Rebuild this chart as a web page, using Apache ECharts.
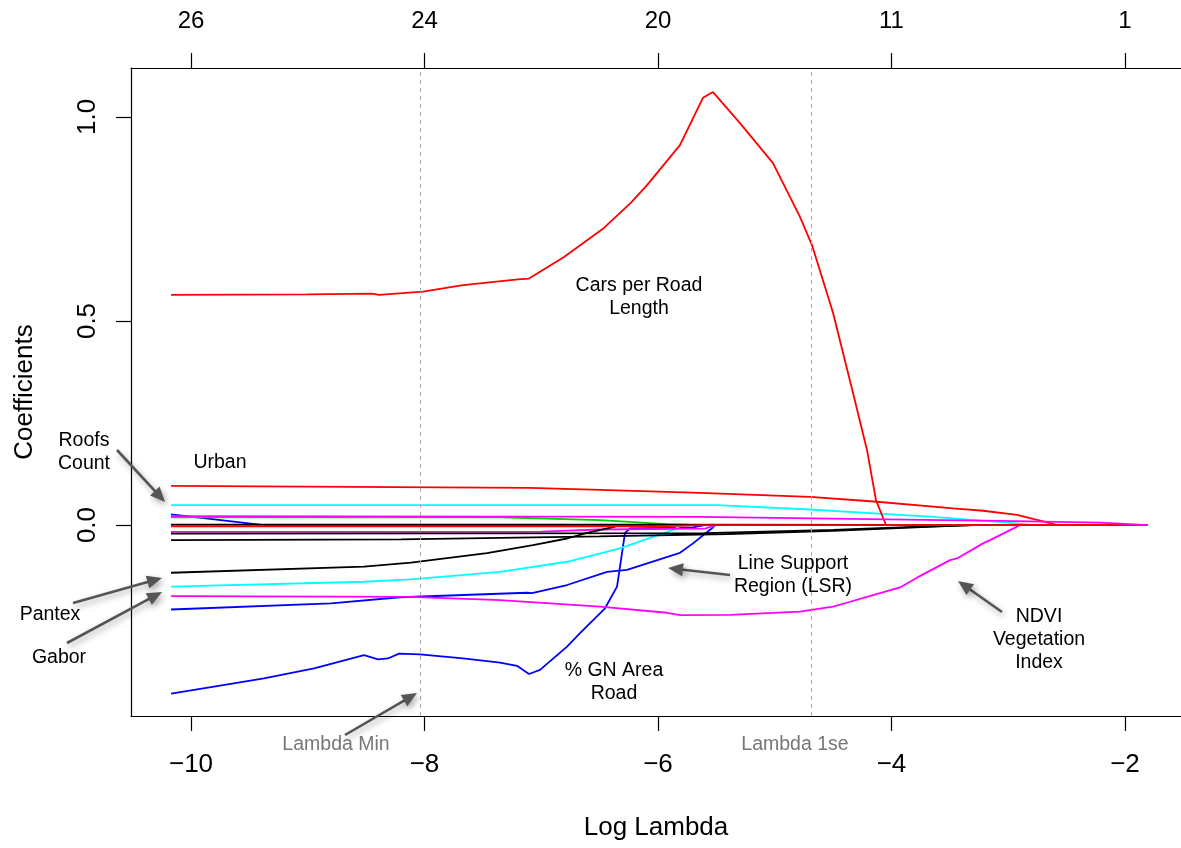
<!DOCTYPE html>
<html><head><meta charset="utf-8">
<script src="https://cdn.jsdelivr.net/npm/echarts@6/dist/echarts.min.js"></script>
<style>html,body{margin:0;padding:0;background:#fff}#c{width:1181px;height:848px}</style>
</head><body><div id="c"></div>
<script>
// ---- axes / ticks ----
const xTicks = [-10, -8, -6, -4, -2];
const topTickLabels = ['26', '24', '20', '11', '1'];
const yTicks = [0, 0.5, 1.0];
const lambdaMin = -8.036;
const lambda1se = -4.69;

// ---- coefficient paths (log lambda, coefficient) ----
const carsL = [-10.171, -9.0, -8.45, -8.39, -8.013, -7.67, -7.199, -7.105, -6.805, -6.463, -6.231, -6.094, -5.812, -5.615, -5.529, -5.298, -5.015, -4.784, -4.681, -4.501, -4.330, -4.210, -4.133, -4.047, -1.803];
const carsC = [0.564, 0.565, 0.567, 0.564, 0.572, 0.588, 0.602, 0.604, 0.657, 0.728, 0.790, 0.833, 0.931, 1.047, 1.061, 0.985, 0.887, 0.755, 0.686, 0.520, 0.324, 0.184, 0.061, 0.0, 0.0];

const urbanL = [-10.171, -7.100, -6.497, -5.640, -4.698, -4.124, -3.473, -3.216, -2.925, -2.574, -1.803];
const urbanC = [0.096, 0.091, 0.086, 0.079, 0.069, 0.057, 0.041, 0.035, 0.025, 0.0, 0.0];

const roofsL = [-10.171, -7.100, -5.495, -4.698, -3.645, -2.925, -2.788, -1.803];
const roofsC = [0.049, 0.049, 0.049, 0.038, 0.020, 0.004, 0.0, 0.0];

const magUpL = [-10.171, -5.640, -3.071, -2.214, -1.803];
const magUpC = [0.022, 0.020, 0.010, 0.006, 0.0];

const greenL = [-10.171, -7.353, -6.497, -5.923, -5.640, -1.803];
const greenC = [0.019, 0.019, 0.012, 0.002, 0.0, 0.0];

const blueSmallL = [-10.171, -9.375, -1.803];
const blueSmallC = [0.026, 0.0, 0.0];

const blackZeroL = [-10.171, -6.0, -1.803];
const blackZeroC = [0.001, 0.001, 0.0];

const redZeroL = [-10.171, -6.0, -5.6, -1.803];
const redZeroC = [-0.003, -0.003, 0.0, 0.0];

const magLowL = [-10.171, -7.0, -6.5, -5.6, -5.5, -1.803];
const magLowC = [-0.017, -0.016, -0.011, -0.009, 0.0, 0.0];

const blackAL = [-10.171, -5.6, -4.5, -3.645, -3.3, -1.803];
const blackAC = [-0.021, -0.020, -0.012, -0.003, 0.0, 0.0];

const blackBL = [-10.171, -8.2, -6.5, -5.4, -4.5, -3.645, -3.3, -1.803];
const blackBC = [-0.037, -0.035, -0.028, -0.022, -0.014, -0.004, 0.0, 0.0];

const pantexL = [-10.171, -8.518, -8.116, -7.465, -7.071, -6.779, -6.608, -6.385, -6.326, -1.803];
const pantexC = [-0.117, -0.102, -0.092, -0.069, -0.049, -0.033, -0.019, -0.005, 0.0, 0.0];

const gaborL = [-10.171, -8.518, -8.116, -7.353, -6.779, -6.326, -6.043, -5.872, -5.794, -1.803];
const gaborC = [-0.151, -0.139, -0.133, -0.115, -0.090, -0.057, -0.029, -0.012, 0.0, 0.0];

const lsrL = [-10.171, -8.801, -8.210, -7.122, -7.080, -6.779, -6.437, -6.266, -5.812, -5.700, -5.538, -5.512, -1.803];
const lsrC = [-0.207, -0.192, -0.177, -0.166, -0.167, -0.147, -0.115, -0.110, -0.068, -0.045, -0.008, 0.0, 0.0];

const ndviL = [-10.171, -8.116, -7.353, -6.497, -5.923, -5.812, -5.383, -4.784, -4.501, -4.355, -4.210, -3.927, -3.782, -3.499, -3.439, -3.216, -3.156, -2.925, -2.899, -1.803];
const ndviC = [-0.174, -0.176, -0.184, -0.200, -0.215, -0.221, -0.220, -0.212, -0.200, -0.188, -0.176, -0.153, -0.129, -0.086, -0.082, -0.045, -0.037, -0.004, 0.0, 0.0];

const gnL = [-10.171, -9.803, -9.375, -8.946, -8.518, -8.398, -8.313, -8.218, -8.039, -7.670, -7.353, -7.208, -7.105, -7.011, -6.779, -6.668, -6.454, -6.351, -6.283, -6.240, -5.700, -5.600, -1.803];
const gnC = [-0.413, -0.396, -0.376, -0.351, -0.319, -0.329, -0.327, -0.315, -0.317, -0.327, -0.337, -0.345, -0.365, -0.355, -0.298, -0.265, -0.204, -0.151, -0.020, -0.008, -0.006, 0.0, 0.0];

const paths = [
  {name: 'blueSmall', L: blueSmallL, C: blueSmallC, color: '#0000FF'},
  {name: 'GN Area Road', L: gnL, C: gnC, color: '#0000FF'},
  {name: 'LSR', L: lsrL, C: lsrC, color: '#0000FF'},
  {name: 'Gabor', L: gaborL, C: gaborC, color: '#00FFFF'},
  {name: 'Roofs Count', L: roofsL, C: roofsC, color: '#00FFFF'},
  {name: 'NDVI', L: ndviL, C: ndviC, color: '#FF00FF'},
  {name: 'magLow', L: magLowL, C: magLowC, color: '#FF00FF'},
  {name: 'green', L: greenL, C: greenC, color: '#00CD00'},
  {name: 'Pantex', L: pantexL, C: pantexC, color: '#000000'},
  {name: 'blackA', L: blackAL, C: blackAC, color: '#000000'},
  {name: 'blackB', L: blackBL, C: blackBC, color: '#000000'},
  {name: 'blackZero', L: blackZeroL, C: blackZeroC, color: '#000000'},
  {name: 'redZero', L: redZeroL, C: redZeroC, color: '#FF0000'},
  {name: 'Urban', L: urbanL, C: urbanC, color: '#FF0000'},
  {name: 'Cars per Road Length', L: carsL, C: carsC, color: '#FF0000'},
  {name: 'magUp', L: magUpL, C: magUpC, color: '#FF00FF'}
];

const FONT = "'Liberation Sans', Arial, Helvetica, sans-serif";
const minus = v => String(v).replace('-', '\u2212');

const series = paths.map((p, i) => {
  const s = {
    type: 'line', name: p.name, xAxisIndex: 0, yAxisIndex: 0,
    data: p.L.map((l, k) => [l, p.C[k]]),
    showSymbol: false, symbol: 'none', animation: false, silent: true,
    lineStyle: {color: p.color, width: 1.8}, z: 3
  };
  if (i === 0) {
    s.markLine = {
      silent: true, symbol: 'none', animation: false,
      label: {show: false},
      lineStyle: {type: [4, 4], color: '#aaaaaa', width: 1},
      data: [{xAxis: lambdaMin}, {xAxis: lambda1se}]
    };
  }
  return s;
});

// ---- annotations ----
function arrow(x1, y1, x2, y2) {
  const dx = x2 - x1, dy = y2 - y1, len = Math.hypot(dx, dy);
  const ux = dx / len, uy = dy / len, hl = 15, hw = 6.5;
  const bx = x2 - ux * hl, by = y2 - uy * hl;
  const shadow = {shadowBlur: 6, shadowColor: 'rgba(0,0,0,0.35)', shadowOffsetX: 2, shadowOffsetY: 3};
  return [
    {type: 'line', shape: {x1: x1, y1: y1, x2: bx + ux * 2, y2: by + uy * 2},
      style: Object.assign({stroke: '#555555', lineWidth: 2.6}, shadow), z: 10},
    {type: 'polygon', shape: {points: [[x2, y2], [bx - uy * hw, by + ux * hw], [bx + uy * hw, by - ux * hw]]},
      style: Object.assign({fill: '#555555'}, shadow), z: 10}
  ];
}
function label(text, x, y, color) {
  return {type: 'text', x: x, y: y, z: 11,
    style: {text: text, font: '19.5px ' + FONT, fill: color || '#000', align: 'center', verticalAlign: 'middle', lineHeight: 23}};
}
const graphics = [].concat(
  label('Cars per Road\nLength', 639, 297),
  label('Urban', 220, 463),
  label('Roofs\nCount', 84, 452),
  label('Pantex', 50, 615),
  label('Gabor', 59, 658),
  label('Line Support\nRegion (LSR)', 793, 575),
  label('NDVI\nVegetation\nIndex', 1039, 640),
  label('% GN Area\nRoad', 614, 682),
  label('Lambda Min', 336, 745, '#777777'),
  label('Lambda 1se', 795, 745, '#777777'),
  arrow(117, 450, 165, 502),
  arrow(73, 603, 162, 578),
  arrow(67, 643, 162, 592),
  arrow(730, 575, 668, 568),
  arrow(1002, 612, 958, 581),
  arrow(345, 735, 417, 693)
);

const axisLine = {show: true, onZero: false, lineStyle: {color: '#000', width: 1.2}};
const tickStyle = {color: '#000', width: 1.2};

const option = {
  backgroundColor: '#ffffff',
  animation: false,
  grid: {left: 131, right: 0, top: 68, bottom: 132, containLabel: false},
  xAxis: [
    {type: 'value', position: 'bottom', min: -10.514, max: -1.5204,
      name: 'Log Lambda', nameLocation: 'middle', nameGap: 99,
      nameTextStyle: {fontFamily: FONT, fontSize: 26, color: '#000'},
      axisLine: axisLine, splitLine: {show: false},
      axisTick: {show: true, length: 15, lineStyle: tickStyle, customValues: xTicks},
      axisLabel: {show: true, customValues: xTicks, margin: 36, fontFamily: FONT, fontSize: 26, color: '#000', formatter: v => minus(v)}},
    {type: 'value', position: 'top', min: -10.514, max: -1.5204,
      axisLine: axisLine, splitLine: {show: false},
      axisTick: {show: true, length: 15, lineStyle: tickStyle, customValues: xTicks},
      axisLabel: {show: true, customValues: xTicks, margin: 35, fontFamily: FONT, fontSize: 24, color: '#000',
        formatter: v => topTickLabels[xTicks.indexOf(Math.round(v))] || ''}}
  ],
  yAxis: [
    {type: 'value', position: 'left', min: -0.468, max: 1.12,
      name: 'Coefficients', nameLocation: 'middle', nameGap: 93, nameRotate: 90,
      nameTextStyle: {fontFamily: FONT, fontSize: 26, color: '#000'},
      axisLine: axisLine, splitLine: {show: false},
      axisTick: {show: true, length: 15, lineStyle: tickStyle, customValues: yTicks},
      axisLabel: {show: true, customValues: yTicks, rotate: 90, margin: 30, fontFamily: FONT, fontSize: 26, color: '#000',
        formatter: v => v.toFixed(1)}}
  ],
  series: series,
  graphic: graphics
};

const chart = echarts.init(document.getElementById('c'), null, {renderer: 'canvas'});
chart.setOption(option);
</script>
</body></html>
